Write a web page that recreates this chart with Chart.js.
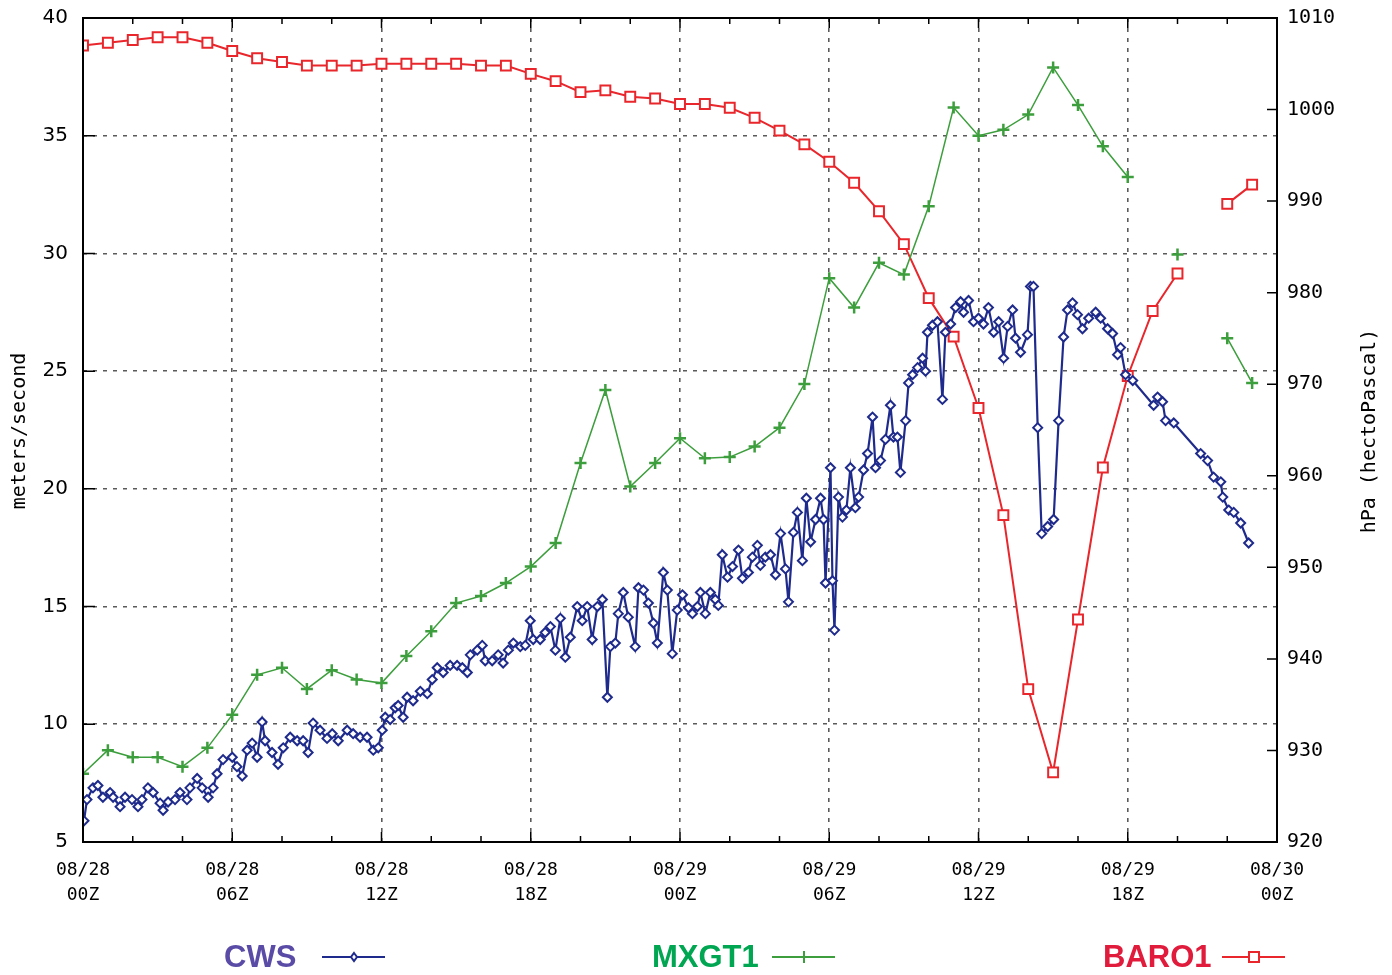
<!DOCTYPE html>
<html>
<head>
<meta charset="utf-8">
<script src="https://cdn.jsdelivr.net/npm/chart.js@4"></script>
<style>
  body { margin: 0; background: #fff; }
  canvas { display: block; }
</style>
</head>
<body>
<canvas id="windChart" width="1392" height="975"></canvas>
<script>
// x axis: hours since 08/28 00Z
const tickHours = [0, 6, 12, 18, 24, 30, 36, 42, 48];
const tickLabels = [
  ['08/28', '00Z'], ['08/28', '06Z'], ['08/28', '12Z'], ['08/28', '18Z'],
  ['08/29', '00Z'], ['08/29', '06Z'], ['08/29', '12Z'], ['08/29', '18Z'],
  ['08/30', '00Z']
];

// hourly observations (null = missing)
const hourly = [0, 1, 2, 3, 4, 5, 6, 7, 8, 9, 10, 11, 12, 13, 14, 15, 16, 17, 18, 19, 20, 21, 22, 23,
  24, 25, 26, 27, 28, 29, 30, 31, 32, 33, 34, 35, 36, 37, 38, 39, 40, 41, 42, 43, 44, 45, 46, 47];

const mxgt1 = [7.9, 8.9, 8.6, 8.6, 8.2, 9.0, 10.4, 12.1, 12.4, 11.5, 12.3, 11.9,
  11.75, 12.9, 13.95, 15.15, 15.45, 16.0, 16.7, 17.7, 21.1, 24.2, 20.1, 21.1,
  22.15, 21.3, 21.35, 21.8, 22.6, 24.45, 28.95, 27.7, 29.6, 29.1, 32.0, 36.2,
  35.0, 35.25, 35.9, 37.9, 36.3, 34.55, 33.25, null, 29.95, null, 26.4, 24.5];

const baro1 = [1007.0, 1007.3, 1007.6, 1007.9, 1007.9, 1007.3, 1006.4, 1005.6, 1005.2, 1004.8, 1004.8, 1004.8,
  1005.0, 1005.0, 1005.0, 1005.0, 1004.8, 1004.8, 1003.9, 1003.1, 1001.9, 1002.1, 1001.4, 1001.2,
  1000.6, 1000.6, 1000.2, 999.1, 997.7, 996.2, 994.3, 992.0, 988.9, 985.3, 979.4, 975.2,
  967.4, 955.7, 936.7, 927.6, 944.3, 960.9, 970.9, 978.0, 982.1, null, 989.7, 991.8];

// CWS sustained wind
const cwsHours = [0.04, 0.16, 0.40, 0.60, 0.80, 1.09, 1.21, 1.49, 1.69, 1.97, 2.21, 2.37, 2.61, 2.82,
  3.10, 3.22, 3.42, 3.70, 3.90, 4.18, 4.30, 4.59, 4.79, 5.03, 5.23, 5.39, 5.63, 6.00, 6.19, 6.40,
  6.60, 6.80, 7.00, 7.20, 7.32, 7.60, 7.84, 8.05, 8.33, 8.61, 8.85, 9.05, 9.25, 9.53, 9.81, 10.02,
  10.26, 10.62, 10.86, 11.14, 11.42, 11.67, 11.87, 12.03, 12.15, 12.35, 12.55, 12.67, 12.87, 13.03,
  13.27, 13.56, 13.84, 14.04, 14.24, 14.48, 14.76, 15.04, 15.25, 15.45, 15.57, 15.85, 16.05, 16.17,
  16.45, 16.69, 16.89, 17.10, 17.30, 17.58, 17.78, 17.98, 18.10, 18.38, 18.58, 18.79, 18.99, 19.19,
  19.39, 19.59, 19.87, 20.07, 20.27, 20.47, 20.68, 20.88, 21.08, 21.20, 21.40, 21.52, 21.72, 21.92,
  22.20, 22.33, 22.53, 22.73, 22.93, 23.09, 23.33, 23.49, 23.69, 23.89, 24.10, 24.34, 24.50, 24.70,
  24.82, 25.02, 25.22, 25.42, 25.54, 25.70, 25.91, 26.11, 26.35, 26.51, 26.75, 26.91, 27.11, 27.23,
  27.43, 27.64, 27.84, 28.04, 28.24, 28.36, 28.56, 28.72, 28.92, 29.08, 29.25, 29.45, 29.65, 29.77,
  29.85, 30.05, 30.13, 30.21, 30.37, 30.53, 30.69, 30.85, 31.05, 31.18, 31.38, 31.54, 31.74, 31.86,
  32.06, 32.26, 32.46, 32.58, 32.74, 32.86, 33.07, 33.19, 33.35, 33.55, 33.75, 33.87, 33.95, 34.15,
  34.35, 34.55, 34.67, 34.88, 35.08, 35.28, 35.40, 35.60, 35.80, 36.00, 36.20, 36.40, 36.61, 36.81,
  37.01, 37.17, 37.37, 37.49, 37.69, 37.97, 38.09, 38.21, 38.38, 38.54, 38.78, 39.02, 39.22, 39.42,
  39.58, 39.78, 39.98, 40.18, 40.43, 40.71, 40.91, 41.19, 41.39, 41.59, 41.71, 41.91, 42.20, 43.04,
  43.20, 43.40, 43.52, 43.85, 44.93, 45.21, 45.45, 45.74, 45.82, 46.06, 46.26, 46.54, 46.86];

const cwsSpeed = [5.9, 6.8, 7.3, 7.4, 6.9, 7.1, 6.9, 6.5, 6.9, 6.8, 6.5, 6.8, 7.3, 7.1,
  6.65, 6.35, 6.7, 6.8, 7.1, 6.8, 7.3, 7.7, 7.3, 6.9, 7.3, 7.9, 8.5, 8.6, 8.2, 7.8,
  8.9, 9.2, 8.6, 10.1, 9.3, 8.8, 8.3, 9.0, 9.45, 9.3, 9.3, 8.8, 10.05, 9.75, 9.4, 9.6,
  9.3, 9.75, 9.6, 9.45, 9.45, 8.9, 9.0, 9.75, 10.3, 10.2, 10.7, 10.8, 10.3, 11.15,
  11.0, 11.4, 11.3, 11.9, 12.4, 12.2, 12.5, 12.5, 12.4, 12.2, 12.95, 13.15, 13.35, 12.7,
  12.7, 12.95, 12.6, 13.15, 13.45, 13.3, 13.35, 14.4, 13.6, 13.6, 13.9, 14.15, 13.15, 14.5,
  12.85, 13.7, 15.0, 14.4, 15.0, 13.6, 15.0, 15.3, 11.15, 13.3, 13.45, 14.7, 15.6, 14.55,
  13.3, 15.8, 15.7, 15.15, 14.3, 13.45, 16.45, 15.7, 13.0, 14.85, 15.5, 14.95, 14.7, 15.0,
  15.6, 14.7, 15.6, 15.3, 15.05, 17.2, 16.25, 16.7, 17.4, 16.2, 16.45, 17.1, 17.6, 16.75,
  17.1, 17.2, 16.35, 18.1, 16.6, 15.2, 18.15, 19.0, 16.95, 19.6, 17.75, 18.7, 19.6, 18.7,
  16.0, 20.9, 16.1, 14.0, 19.65, 18.8, 19.1, 20.9, 19.2, 19.65, 20.8, 21.5, 23.05, 20.9,
  21.2, 22.1, 23.55, 22.2, 22.2, 20.7, 22.9, 24.5, 24.85, 25.15, 25.55, 25.0, 26.65, 26.95,
  27.1, 23.8, 26.65, 27.0, 27.7, 27.95, 27.5, 28.0, 27.1, 27.25, 27.0, 27.7, 26.65, 27.1,
  25.55, 26.9, 27.6, 26.4, 25.8, 26.55, 28.6, 28.6, 22.6, 18.1, 18.4, 18.7, 22.9, 26.45,
  27.6, 27.9, 27.4, 26.8, 27.25, 27.5, 27.25, 26.8, 26.6, 25.7, 26.0, 24.85, 24.6, 23.55,
  23.9, 23.7, 22.9, 22.8, 21.5, 21.2, 20.5, 20.3, 19.65, 19.1, 19.0, 18.55, 17.7];

const cwsColor = '#1f2b8c';
const gustColor = '#3c9e3c';
const baroColor = '#e8262b';
const gridColor = '#5a5a5a';

const monoFont = '"DejaVu Sans Mono", monospace';

function pairs(xs, ys) {
  return xs.map((x, i) => ({ x: x, y: ys[i] }));
}

function drawMarker(ctx, style, x, y, color) {
  ctx.save();
  ctx.strokeStyle = color;
  ctx.fillStyle = '#fff';
  ctx.lineWidth = 2;
  ctx.beginPath();
  if (style === 'rectRot') {
    ctx.moveTo(x, y - 4); ctx.lineTo(x + 3, y); ctx.lineTo(x, y + 4); ctx.lineTo(x - 3, y); ctx.closePath();
    ctx.fill(); ctx.stroke();
  } else if (style === 'cross') {
    ctx.moveTo(x, y - 6); ctx.lineTo(x, y + 6);
    ctx.stroke();
  } else {
    ctx.rect(x - 5, y - 5, 10, 10);
    ctx.fill(); ctx.stroke();
  }
  ctx.restore();
}

// frame, inward tick marks, axis titles and the legend row
const decorations = {
  id: 'decorations',
  afterDraw(chart) {
    const ctx = chart.ctx;
    const a = chart.chartArea;
    const xs = chart.scales.x;
    const yl = chart.scales.y;
    const yr = chart.scales.y1;
    ctx.save();
    ctx.setLineDash([]);
    ctx.strokeStyle = '#000';
    ctx.lineWidth = 2;
    ctx.strokeRect(a.left, a.top, a.right - a.left, a.bottom - a.top);

    ctx.lineWidth = 1.5;
    ctx.beginPath();
    xs.ticks.forEach(t => {
      const px = xs.getPixelForValue(t.value);
      const len = tickHours.includes(t.value) ? 10 : 6;
      ctx.moveTo(px, a.bottom); ctx.lineTo(px, a.bottom - len);
      ctx.moveTo(px, a.top); ctx.lineTo(px, a.top + len);
    });
    yl.ticks.forEach(t => {
      const py = yl.getPixelForValue(t.value);
      ctx.moveTo(a.left, py); ctx.lineTo(a.left + 12, py);
    });
    yr.ticks.forEach(t => {
      const py = yr.getPixelForValue(t.value);
      ctx.moveTo(a.right, py); ctx.lineTo(a.right - 10, py);
    });
    ctx.stroke();

    ctx.fillStyle = '#000';
    ctx.font = '20px ' + monoFont;
    ctx.textAlign = 'center';
    ctx.textBaseline = 'middle';
    ctx.save();
    ctx.translate(20, 431);
    ctx.rotate(-Math.PI / 2);
    ctx.fillText('meters/second', 0, 0);
    ctx.restore();
    ctx.save();
    ctx.translate(1370, 431);
    ctx.rotate(-Math.PI / 2);
    ctx.fillText('hPa (hectoPascal)', 0, 0);
    ctx.restore();

    // legend
    const items = [
      { text: 'CWS', color: '#5a4ba6', line: cwsColor, style: 'rectRot', tx: 224, lx: 322 },
      { text: 'MXGT1', color: '#00a651', line: gustColor, style: 'cross', tx: 652, lx: 772 },
      { text: 'BARO1', color: '#e11b3c', line: baroColor, style: 'rect', tx: 1103, lx: 1222 }
    ];
    const ly = 958;
    items.forEach(it => {
      ctx.font = 'bold 31px "Liberation Sans", Arial, sans-serif';
      ctx.textAlign = 'left';
      ctx.fillStyle = it.color;
      ctx.fillText(it.text, it.tx, ly);
      ctx.strokeStyle = it.line;
      ctx.lineWidth = 2;
      ctx.beginPath();
      ctx.moveTo(it.lx, ly - 1); ctx.lineTo(it.lx + 63, ly - 1);
      ctx.stroke();
      drawMarker(ctx, it.style, it.lx + 32, ly - 1, it.line);
    });
    ctx.restore();
  }
};

new Chart(document.getElementById('windChart'), {
  type: 'line',
  data: {
    datasets: [
      {
        label: 'BARO1',
        data: pairs(hourly, baro1),
        yAxisID: 'y1',
        borderColor: baroColor,
        borderWidth: 2,
        pointStyle: 'rect',
        pointRadius: 7,
        pointBorderWidth: 2,
        pointBackgroundColor: '#fff',
        pointBorderColor: baroColor,
        spanGaps: false,
        order: 3
      },
      {
        label: 'MXGT1',
        data: pairs(hourly, mxgt1),
        yAxisID: 'y',
        borderColor: gustColor,
        borderWidth: 1.5,
        pointStyle: 'cross',
        pointRadius: 6,
        pointBorderWidth: 2.5,
        pointBorderColor: gustColor,
        spanGaps: false,
        order: 2
      },
      {
        label: 'CWS',
        data: pairs(cwsHours, cwsSpeed),
        yAxisID: 'y',
        borderColor: cwsColor,
        borderWidth: 2.2,
        pointStyle: 'rectRot',
        pointRadius: 4.5,
        pointBorderWidth: 2,
        pointBackgroundColor: '#fff',
        pointBorderColor: cwsColor,
        order: 1
      }
    ]
  },
  options: {
    responsive: false,
    animation: false,
    devicePixelRatio: 1,
    layout: { padding: { top: 18, left: 0, right: 0, bottom: 0 } },
    plugins: {
      legend: { display: false },
      tooltip: { enabled: false }
    },
    elements: { line: { tension: 0 } },
    scales: {
      x: {
        type: 'linear',
        min: 0,
        max: 48,
        afterFit: s => { s.height = 133; },
        afterBuildTicks: s => {
          s.ticks = [];
          for (let h = 0; h <= 48; h += 2) s.ticks.push({ value: h });
        },
        ticks: {
          autoSkip: false,
          maxRotation: 0,
          padding: 16,
          color: '#000',
          font: { family: monoFont, size: 18, lineHeight: 1.4 },
          callback: v => {
            const i = tickHours.indexOf(v);
            return i >= 0 ? tickLabels[i] : '';
          }
        },
        grid: {
          drawTicks: false,
          lineWidth: 1.6,
          color: c => (c.tick && tickHours.includes(c.tick.value) && c.tick.value > 0 && c.tick.value < 48)
            ? gridColor : 'rgba(0,0,0,0)'
        },
        border: { display: false, dash: [4, 6] }
      },
      y: {
        position: 'left',
        min: 5,
        max: 40,
        afterFit: s => { s.width = 83; },
        ticks: {
          stepSize: 5,
          padding: 3,
          color: '#000',
          font: { family: '"DejaVu Sans", sans-serif', size: 20 }
        },
        grid: {
          drawTicks: true,
          tickLength: 12,
          tickColor: 'rgba(0,0,0,0)',
          lineWidth: 1.6,
          color: c => (c.tick && c.tick.value > 5 && c.tick.value < 40) ? gridColor : 'rgba(0,0,0,0)'
        },
        border: { display: false, dash: [4, 6] }
      },
      y1: {
        position: 'right',
        min: 920,
        max: 1010,
        afterFit: s => { s.width = 115; },
        ticks: {
          stepSize: 10,
          padding: 2,
          color: '#000',
          font: { family: monoFont, size: 20 },
          callback: v => String(v)
        },
        grid: {
          drawOnChartArea: false,
          drawTicks: true,
          tickLength: 8,
          tickColor: 'rgba(0,0,0,0)'
        },
        border: { display: false }
      }
    }
  },
  plugins: [decorations]
});
</script>
</body>
</html>
